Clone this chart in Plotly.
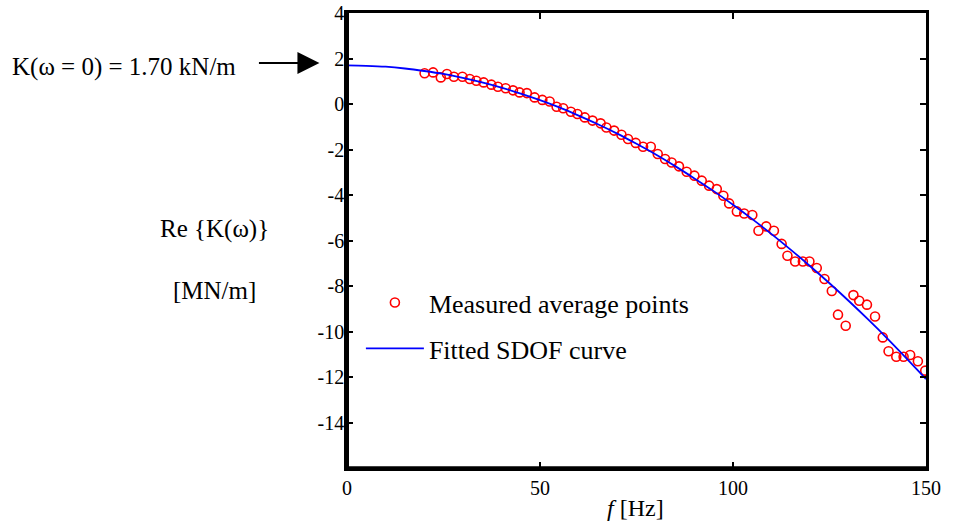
import plotly.graph_objects as go

# Measured average points (frequency in Hz, Re{K} in MN/m)
meas_f = [20.1, 22.3, 24.3, 25.9, 27.7, 29.9, 31.8, 33.5, 35.4, 37.4, 39.1, 41.1, 43.0, 44.7,
          46.6, 48.6, 50.6, 52.5, 54.3, 56.0, 58.0, 59.7, 61.6, 63.6, 65.7, 67.2, 69.2, 71.1,
          72.8, 74.8, 76.7, 78.7, 80.5, 82.4, 84.1, 86.0, 88.0, 90.0, 91.9, 93.8, 95.8, 97.5,
          99.0, 101.0, 102.9, 105.0, 106.6, 108.6, 110.6, 112.6, 114.1, 116.1, 118.1, 119.8,
          121.7, 123.7, 125.6, 127.2, 129.2, 131.2, 132.7, 134.7, 136.8, 138.8, 140.3, 142.3,
          144.2, 145.9, 147.9, 149.8]
meas_k = [1.35, 1.39, 1.17, 1.32, 1.20, 1.20, 1.10, 1.02, 0.95, 0.85, 0.76, 0.69, 0.60, 0.51,
          0.48, 0.29, 0.18, 0.11, -0.12, -0.19, -0.34, -0.44, -0.59, -0.73, -0.85, -1.03, -1.17, -1.35,
          -1.54, -1.71, -1.88, -1.88, -2.20, -2.42, -2.57, -2.74, -2.98, -3.15, -3.37, -3.59, -3.74, -4.03,
          -4.37, -4.72, -4.81, -4.88, -5.57, -5.38, -5.57, -6.15, -6.67, -6.92, -6.92, -6.92,
          -7.21, -7.69, -8.22, -9.26, -9.75, -8.40, -8.65, -8.82, -9.34, -10.26, -10.87, -11.11,
          -11.11, -11.03, -11.31, -11.72]

# Fitted SDOF curve
fit_f = [0, 5, 10, 15, 20, 25, 30, 35, 40, 45, 50, 55, 60, 65, 70, 75, 80, 85, 90, 95, 100,
         105, 110, 115, 120, 125, 130, 135, 140, 145, 150]
fit_k = [1.70, 1.68, 1.64, 1.56, 1.45, 1.32, 1.15, 0.95, 0.72, 0.46, 0.17, -0.15, -0.51, -0.89,
         -1.30, -1.75, -2.22, -2.73, -3.27, -3.83, -4.43, -5.06, -5.72, -6.41, -7.13, -7.88,
         -8.66, -9.47, -10.31, -11.19, -12.09]

x_ticks = [0, 50, 100, 150]
y_ticks = [4, 2, 0, -2, -4, -6, -8, -10, -12, -14]

FONT = "Liberation Serif, Times New Roman, serif"

fig = go.Figure()
fig.add_trace(go.Scatter(
    x=meas_f, y=meas_k, mode="markers", name="Measured average points",
    marker=dict(symbol="circle-open", size=9, color="#ff0000", line=dict(width=1.6, color="#ff0000")),
    legendgroup="a", legendrank=1))
fig.add_trace(go.Scatter(
    x=fit_f, y=fit_k, mode="lines", name="Fitted SDOF curve",
    line=dict(color="#0000ff", width=1.8, shape="spline"),
    legendgroup="b", legendrank=2))

fig.update_layout(
    width=954, height=527,
    margin=dict(l=347, r=28, t=13, b=59),
    paper_bgcolor="white", plot_bgcolor="white",
    font=dict(family=FONT, size=20, color="black"),
    showlegend=True,
    legend=dict(x=0.024, y=0.415, xanchor="left", yanchor="top",
                font=dict(family=FONT, size=26), bgcolor="rgba(0,0,0,0)",
                tracegroupgap=9, itemwidth=58),
    xaxis=dict(range=[0, 150], tickvals=x_ticks, ticktext=[str(v) for v in x_ticks],
               ticks="inside", ticklen=6, tickwidth=2, automargin=False,
               tickcolor="black", showline=True, linewidth=2.5, linecolor="black",
               mirror="ticks", showgrid=False, zeroline=False, ticklabelstandoff=0,
               tickfont=dict(family=FONT, size=20)),
    yaxis=dict(range=[-16, 4], tickvals=y_ticks, ticktext=[str(v) for v in y_ticks],
               ticks="inside", ticklen=6, tickwidth=2, automargin=False,
               tickcolor="black", showline=True, linewidth=2.5, linecolor="black",
               mirror="ticks", showgrid=False, zeroline=False, ticklabelstandoff=-4,
               tickfont=dict(family=FONT, size=20)),
    shapes=[
        dict(type="line", xref="paper", yref="paper", x0=0, x1=0, y0=0, y1=1,
             line=dict(color="black", width=4)),
        dict(type="line", xref="paper", yref="paper", x0=0, x1=1, y0=0, y1=0,
             line=dict(color="black", width=3.5)),
    ],
    annotations=[
        dict(text="<i>f</i> [Hz]", xref="paper", yref="paper", x=0.499, y=-0.088,
             xanchor="center", yanchor="middle", showarrow=False, font=dict(family=FONT, size=24)),
        dict(text="Re {K(ω)}", xref="paper", yref="paper", x=-0.229, y=0.525,
             xanchor="center", yanchor="middle", showarrow=False, font=dict(family=FONT, size=25)),
        dict(text="[MN/m]", xref="paper", yref="paper", x=-0.229, y=0.391,
             xanchor="center", yanchor="middle", showarrow=False, font=dict(family=FONT, size=25)),
        dict(text="K(ω = 0) = 1.70 kN/m", xref="paper", yref="paper", x=-0.385, y=0.881,
             xanchor="center", yanchor="middle", showarrow=False, font=dict(family=FONT, size=25)),
        dict(text="", xref="paper", yref="paper", x=-0.0476, y=0.89,
             ax=-62, ay=0, showarrow=True, arrowhead=2, arrowsize=2.2, arrowwidth=2,
             arrowcolor="black"),
    ],
)

fig.write_html("out.html")
